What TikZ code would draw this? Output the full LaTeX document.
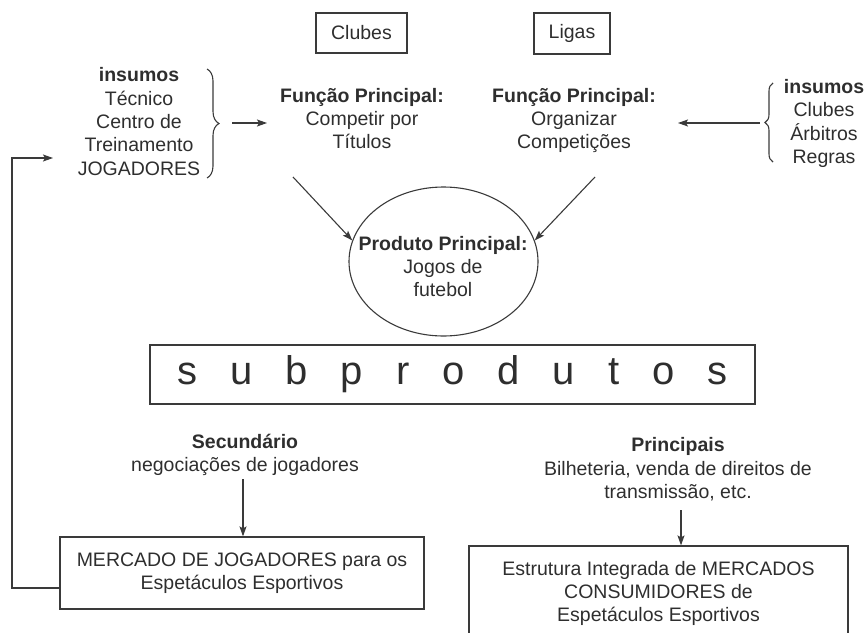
\documentclass[tikz,border=0pt]{standalone}
\usepackage{fontspec}
\setmainfont{Liberation Sans}
\usetikzlibrary{arrows.meta,shapes.geometric,decorations.pathreplacing}
\definecolor{ink}{HTML}{2E2E2E}
\definecolor{edge}{HTML}{3A3A3A}
\newcommand\gapsp{\hspace{33pt}}
\begin{document}
\begin{tikzpicture}[x=1pt,y=-1pt,
  txt/.style={font=\fontsize{19.5}{23.3}\selectfont, text=ink, inner sep=0, align=center, anchor=north},
  box/.style={draw=edge, line width=1.2pt, font=\fontsize{19.5}{23.3}\selectfont, text=ink, inner sep=0, align=center},
  arr/.style={draw=edge, line width=1.1pt, -{Stealth[length=10pt,width=7pt,inset=2pt]}},
  brc/.style={draw=edge, line width=1.1pt, decorate, decoration={brace, amplitude=#1}}
]
\path[use as bounding box] (0,0) rectangle (867,632);
\clip (0,0) rectangle (867,632);

% top boxes
\node[box, minimum width=91, minimum height=40] (clubes) at (361.5,33) {Clubes};
\node[box, minimum width=76, minimum height=41] (ligas) at (572,33.5) {Ligas};

% texts
\node[txt] (insL) at (139,65.4) {\strut\textbf{insumos}\\Técnico\\Centro de\\Treinamento\\JOGADORES};
\node[txt] (fp1) at (362,85.7) {\strut\textbf{Função Principal:}\\Competir por\\Títulos};
\node[txt] (fp2) at (574,85.7) {\strut\textbf{Função Principal:}\\Organizar\\Competições};
\node[txt] (insR) at (824,77) {\strut\textbf{insumos}\\Clubes\\Árbitros\\Regras};

% product ellipse
\node[ellipse, draw=edge, line width=1.1pt, minimum width=189, minimum height=149, inner sep=0] (prod) at (443.5,261.5) {};
\node[txt] (prodtxt) at (443,233.7) {\strut\textbf{Produto Principal:}\\Jogos de\\futebol};

% subprodutos
\node[box, minimum width=605, minimum height=59, font=\fontsize{40}{48}\selectfont] (sub) at (452.5,374.5)
  {s\gapsp u\gapsp b\gapsp p\gapsp r\gapsp o\gapsp d\gapsp u\gapsp t\gapsp o\gapsp s};

% lower texts
\node[txt] (sec) at (245,431.7) {\strut\textbf{Secundário}\\negociações de jogadores};
\node[txt] (princ) at (678,435.4) {\strut\textbf{Principais}\\Bilheteria, venda de direitos de\\transmissão, etc.};

% lower boxes
\node[box, minimum width=364, minimum height=72] (merc) at (242,573)
  {\strut MERCADO DE JOGADORES para os\\Espetáculos Esportivos\strut};
\node[box, minimum width=379, minimum height=96] (cons) at (658.5,594)
  {\strut Estrutura Integrada de MERCADOS\\CONSUMIDORES de\\Espetáculos Esportivos\strut};

% braces
\coordinate (bL1) at (207,69);
\coordinate (bL2) at (207,178);
\draw[brc=12pt] (bL1) -- (bL2);
\coordinate (bR1) at (773,162);
\coordinate (bR2) at (773,83);
\draw[brc=8pt] (bR1) -- (bR2);

% arrows
\coordinate (aL1) at (232,123);
\coordinate (aL2) at (267,123);
\draw[arr] (aL1) -- (aL2);
\coordinate (aR1) at (760,123);
\coordinate (aR2) at (678,123);
\draw[arr] (aR1) -- (aR2);

\coordinate (f1) at (293,177);
\draw[arr] (f1) -- (prod.167);
\coordinate (f2) at (595,177);
\draw[arr] (f2) -- (prod.13);

\coordinate (s1) at (243,479);
\draw[arr] (s1) -- (s1 |- merc.north);
\coordinate (p1) at (681,510);
\draw[arr] (p1) -- (p1 |- cons.north);

% feedback loop
\coordinate (fb) at (60,588);
\coordinate (fb1) at (12,588);
\coordinate (fb3) at (53,158);
\draw[arr] (fb) -- (fb1) |- (fb3);
\end{tikzpicture}
\end{document}
